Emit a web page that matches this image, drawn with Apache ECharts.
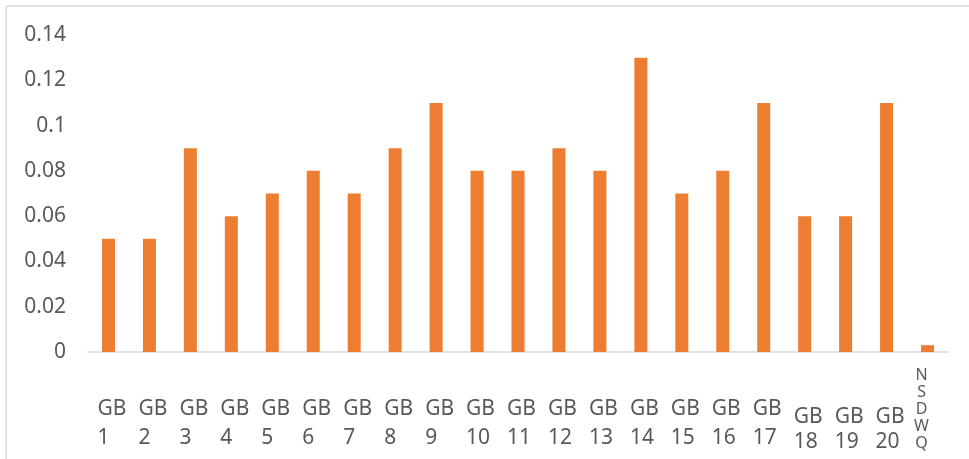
<!DOCTYPE html>
<html>
<head>
<meta charset="utf-8">
<script src="https://cdn.jsdelivr.net/npm/echarts@6/dist/echarts.min.js"></script>
<style>html,body{margin:0;padding:0;background:#fff}#c{width:969px;height:459px}</style>
</head>
<body>
<div id="c"></div>
<script>
const categories = ['GB 1','GB 2','GB 3','GB 4','GB 5','GB 6','GB 7','GB 8','GB 9','GB 10','GB 11','GB 12','GB 13','GB 14','GB 15','GB 16','GB 17','GB 18','GB 19','GB 20','NSDWQ'];
const values = [0.05,0.05,0.09,0.06,0.07,0.08,0.07,0.09,0.11,0.08,0.08,0.09,0.08,0.13,0.07,0.08,0.11,0.06,0.06,0.11,0.003];
const yTicks = [0,0.02,0.04,0.06,0.08,0.1,0.12,0.14];
const lowLabels = ['GB 18','GB 19','GB 20'];

const FONT = 'Noto Sans';
const TXT = '#595959';
const catData = categories.map(function (c) {
  if (c === 'NSDWQ') {
    return { value: c, textStyle: { padding: [2, 12, 0, 0] } };
  }
  const low = lowLabels.indexOf(c) >= 0;
  return { value: c, textStyle: { padding: [low ? 40 : 30, 0, 0, 7] } };
});

const chart = echarts.init(document.getElementById('c'), null, { renderer: 'canvas' });
chart.setOption({
  animation: false,
  backgroundColor: '#ffffff',
  textStyle: { fontFamily: FONT },
  grid: { left: 88, right: 21, top: 35, bottom: 107 },
  graphic: [
    { type: 'line', shape: { x1: 6, y1: 6, x2: 969, y2: 6 }, style: { stroke: '#d9d9d9', lineWidth: 1.5 } },
    { type: 'line', shape: { x1: 6, y1: 6, x2: 6, y2: 459 }, style: { stroke: '#d9d9d9', lineWidth: 1.5 } }
  ],
  xAxis: {
    type: 'category',
    data: catData,
    axisLine: { show: true, lineStyle: { color: '#d9d9d9', width: 1.5 } },
    axisTick: { show: false },
    axisLabel: {
      interval: 0,
      margin: 13,
      align: 'center',
      verticalAlign: 'top',
      color: TXT,
      fontFamily: FONT,
      fontSize: 21,
      formatter: function (v) {
        if (v === 'NSDWQ') return v.split('').map(function (ch) { return '{n|' + ch + '}'; }).join('\n');
        const parts = v.split(' ');
        const tag = lowLabels.indexOf(v) >= 0 ? 'l' : 'g';
        return '{' + tag + '|' + parts[0] + '}\n{' + tag + '|' + parts[1] + '}';
      },
      rich: {
        g: { fontSize: 21, lineHeight: 29, align: 'left', color: TXT, fontFamily: FONT },
        l: { fontSize: 21, lineHeight: 25, align: 'left', color: TXT, fontFamily: FONT },
        n: { fontSize: 16, lineHeight: 17, align: 'center', color: TXT, fontFamily: FONT }
      }
    }
  },
  yAxis: {
    type: 'value',
    min: yTicks[0],
    max: yTicks[yTicks.length - 1],
    interval: 0.02,
    splitLine: { show: false },
    axisLine: { show: false },
    axisTick: { show: false },
    axisLabel: { color: TXT, fontFamily: FONT, fontSize: 21, margin: 22 }
  },
  series: [{
    type: 'bar',
    data: values,
    barWidth: 13,
    itemStyle: { color: '#ED7D31' }
  }]
});
</script>
</body>
</html>
